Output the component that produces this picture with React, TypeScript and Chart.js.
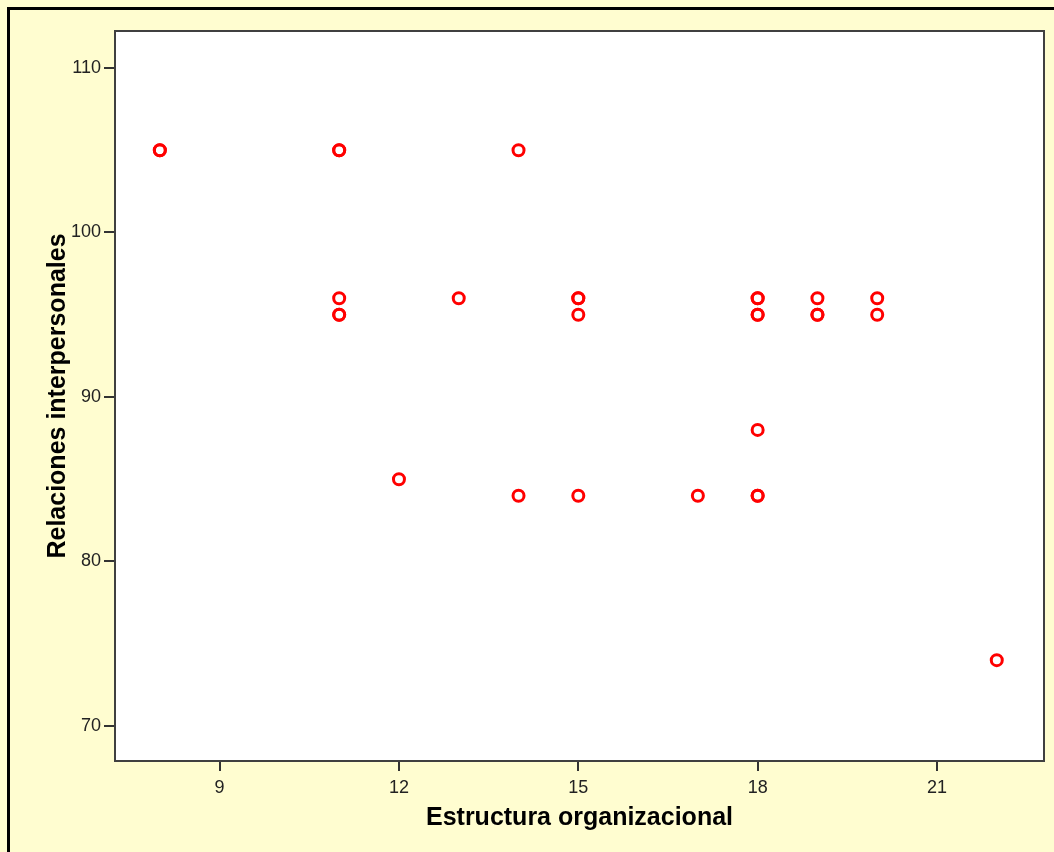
import React, { useEffect, useRef } from "react";
import { Chart, registerables } from "chart.js";

Chart.register(...registerables);

const xValues = [8, 8, 11, 11, 14, 11, 11, 11, 13, 15, 15, 15, 18, 18, 18, 18, 19, 19, 19, 20, 20, 12, 14, 15, 17, 18, 18, 18, 22];
const yValues = [105, 105, 105, 105, 105, 96, 95, 95, 96, 96, 96, 95, 96, 96, 95, 95, 96, 95, 95, 96, 95, 85, 84, 84, 84, 88, 84, 84, 74];
const xTicks = [9, 12, 15, 18, 21];
const yTicks = [70, 80, 90, 100, 110];
const xTitle = "Estructura organizacional";
const yTitle = "Relaciones interpersonales";

const FONT = "'Liberation Sans', Arial, sans-serif";

export default function App() {
  const ref = useRef<HTMLCanvasElement>(null);
  useEffect(() => {
    if (!ref.current) return;
    const bgPlugin = {
      id: "bgPlugin",
      beforeDraw(chart: any) {
        const { ctx, width, height, chartArea } = chart;
        ctx.save();
        ctx.fillStyle = "#FFFDD0";
        ctx.fillRect(0, 0, width, height);
        ctx.fillStyle = "#000";
        ctx.fillRect(7, 7, width - 7, 3);
        ctx.fillRect(7, 7, 3, height - 7);
        ctx.fillStyle = "#fff";
        ctx.fillRect(chartArea.left, chartArea.top, chartArea.right - chartArea.left, chartArea.bottom - chartArea.top);
        ctx.restore();
      },
      afterDraw(chart: any) {
        const { ctx, chartArea } = chart;
        ctx.save();
        ctx.strokeStyle = "#404040";
        ctx.lineWidth = 2;
        ctx.strokeRect(chartArea.left, chartArea.top, chartArea.right - chartArea.left, chartArea.bottom - chartArea.top);
        ctx.restore();
      },
    };
    const chart = new Chart(ref.current, {
      type: "scatter",
      data: {
        datasets: [
          {
            data: xValues.map((x, i) => ({ x, y: yValues[i] })),
            pointStyle: "circle",
            pointRadius: 5.5,
            pointBorderWidth: 3,
            pointBorderColor: "#FF0000",
            pointBackgroundColor: "rgba(255,255,255,0)",
            showLine: false,
          },
        ],
      },
      options: {
        animation: false,
        responsive: false,
        events: [],
        layout: { padding: { left: 0, top: 31, right: 10, bottom: 0 } },
        plugins: { legend: { display: false }, tooltip: { enabled: false } },
        scales: {
          x: {
            type: "linear",
            min: 7.25,
            max: 22.79,
            afterBuildTicks: (s: any) => {
              s.ticks = xTicks.map((v) => ({ value: v }));
            },
            afterFit: (s: any) => {
              s.height = 91;
            },
            grid: { drawOnChartArea: false, drawTicks: true, tickLength: 10, color: "#333", lineWidth: 2 },
            border: { display: true, color: "#404040", width: 2 },
            ticks: { color: "#222", font: { family: FONT, size: 18 }, padding: 6, maxRotation: 0, autoSkip: false },
            title: {
              display: true,
              text: xTitle,
              color: "#000",
              font: { family: FONT, size: 25, weight: "bold" },
              padding: { top: 0, bottom: 19 },
            },
          },
          y: {
            type: "linear",
            min: 67.87,
            max: 112.25,
            afterBuildTicks: (s: any) => {
              s.ticks = yTicks.map((v) => ({ value: v }));
            },
            afterFit: (s: any) => {
              s.width = 115;
            },
            grid: { drawOnChartArea: false, drawTicks: true, tickLength: 11, color: "#333", lineWidth: 2 },
            border: { display: true, color: "#404040", width: 2 },
            ticks: { color: "#222", font: { family: FONT, size: 18 }, padding: 3, autoSkip: false },
            title: {
              display: true,
              text: yTitle,
              color: "#000",
              font: { family: FONT, size: 25, weight: "bold" },
              padding: { top: 43, bottom: 0 },
            },
          },
        },
      },
      plugins: [bgPlugin],
    });
    return () => chart.destroy();
  }, []);
  return (
    <div style={{ position: "fixed", left: 0, top: 0, width: 1054, height: 852 }}>
      <canvas ref={ref} width={1054} height={852} style={{ display: "block" }} />
    </div>
  );
}
